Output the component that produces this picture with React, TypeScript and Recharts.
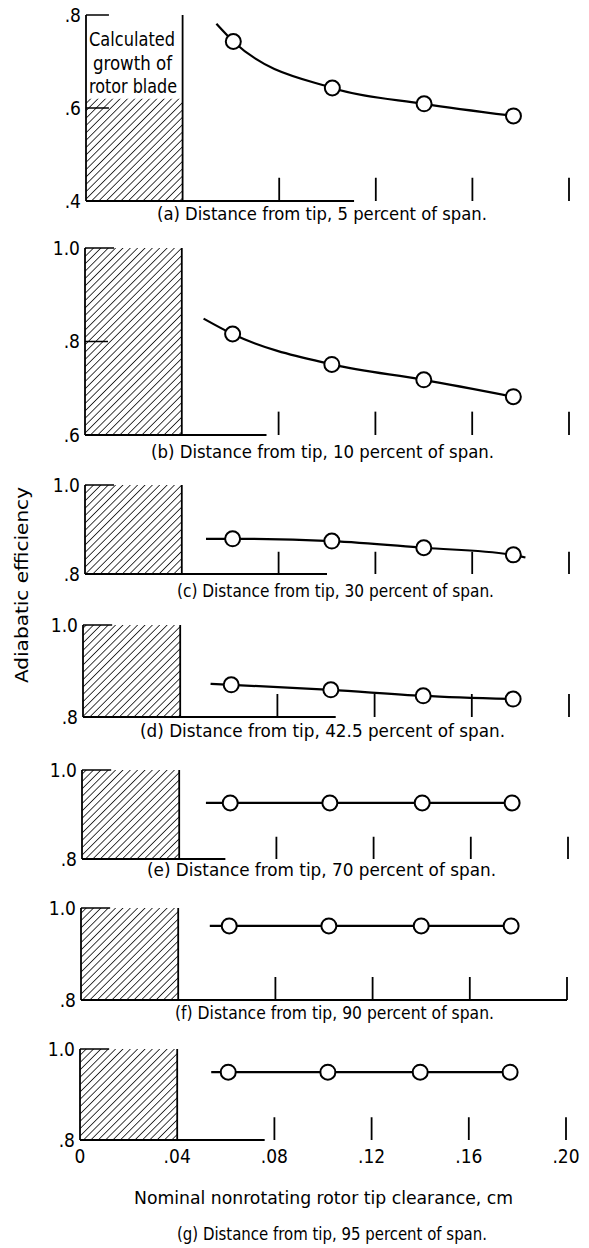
import React from "react";
import {
  ComposedChart,
  XAxis,
  YAxis,
  Line,
  Scatter,
  ReferenceArea,
  ReferenceLine,
} from "recharts";

// ---------- data ----------
const clearance = [0.061, 0.102, 0.14, 0.177];
const xTicks = [0, 0.04, 0.08, 0.12, 0.16, 0.2];
const xTickLabels = ["0", ".04", ".08", ".12", ".16", ".20"];

const effA = [0.743, 0.643, 0.609, 0.583];
const effB = [0.816, 0.751, 0.718, 0.682];
const effC = [0.879, 0.874, 0.859, 0.843];
const effD = [0.87, 0.859, 0.846, 0.839];
const effE = [0.926, 0.926, 0.926, 0.926];
const effF = [0.961, 0.961, 0.961, 0.961];
const effG = [0.949, 0.949, 0.949, 0.949];
const efficiencies = [effA, effB, effC, effD, effE, effF, effG];

// faired-curve start (and end) points
const curveLeadX = [0.054, 0.049, 0.05, 0.0525, 0.051, 0.053, 0.054];
const curveLeadY = [0.781, 0.849, 0.879, 0.872, 0.926, 0.961, 0.949];
const curveTailC = { x: 0.182, y: 0.837 };

const yTicksA = [0.4, 0.6, 0.8];
const yTicksB = [0.6, 0.8, 1.0];
const yTicksHigh = [0.8, 1.0];

const captions = [
  "(a) Distance from tip,  5 percent of span.",
  "(b) Distance from tip,  10 percent of span.",
  "(c) Distance from tip,  30 percent of span.",
  "(d) Distance from tip,  42.5 percent of span.",
  "(e) Distance from tip,  70 percent of span.",
  "(f) Distance from tip,  90 percent of span.",
  "(g) Distance from tip,  95 percent of span.",
];
const bladeNote = ["Calculated", "growth of", "rotor blade"];
const yTitle = "Adiabatic efficiency";
const xTitle = "Nominal nonrotating rotor tip clearance,  cm";

// blade growth (hatched) extent
const bladeGrowth = 0.04;
const hatchTopA = 0.62;

// ---------- layout ----------
const FONT = "'DejaVu Sans Condensed', 'Liberation Sans Narrow', 'DejaVu Sans', sans-serif";

const panels = [
  { top: 15, bottom: 201, left: 86, right: 569, domain: [0.4, 0.8], ticks: yTicksA, inner: [0.6, 0.8], hatchTop: hatchTopA, baseEnd: 0.111, cap: [157, 487, 213] },
  { top: 248, bottom: 435, left: 85, right: 569, domain: [0.6, 1.0], ticks: yTicksB, inner: [0.8], hatchTop: 1.0, baseEnd: 0.075, cap: [151, 494, 451] },
  { top: 485, bottom: 574, left: 85, right: 569, domain: [0.8, 1.0], ticks: yTicksHigh, inner: [], hatchTop: 1.0, baseEnd: 0.1, cap: [177, 494, 590] },
  { top: 625, bottom: 717, left: 83, right: 569, domain: [0.8, 1.0], ticks: yTicksHigh, inner: [], hatchTop: 1.0, baseEnd: 0.104, cap: [140, 505, 730] },
  { top: 770, bottom: 859, left: 82, right: 568, domain: [0.8, 1.0], ticks: yTicksHigh, inner: [], hatchTop: 1.0, baseEnd: 0.059, cap: [147, 496, 869] },
  { top: 908, bottom: 1000, left: 81, right: 567, domain: [0.8, 1.0], ticks: yTicksHigh, inner: [], hatchTop: 1.0, baseEnd: 0.2, cap: [175, 494, 1012] },
  { top: 1049, bottom: 1140, left: 80, right: 566, domain: [0.8, 1.0], ticks: yTicksHigh, inner: [], hatchTop: 1.0, baseEnd: 0.076, cap: [177, 487, 1233] },
];
const noteSpans = [
  [89, 175],
  [93, 172],
  [89, 177],
];

const fmtY = (v: number) => (v >= 1 ? "1.0" : v.toFixed(1).replace(/^0/, ""));
const fmtX = (v: number) => {
  const i = xTicks.findIndex((t) => Math.abs(t - v) < 1e-9);
  return i >= 0 ? xTickLabels[i] : String(v);
};

const OpenCircle = (props: any) => {
  const { cx, cy } = props;
  if (cx == null || cy == null) return null;
  return <circle cx={cx} cy={cy} r={7.5} fill="#fff" stroke="#000" strokeWidth={2} />;
};

function Panel({ idx }: { idx: number }) {
  const p = panels[idx];
  const plotH = p.bottom - p.top;
  const mt = 10;
  const isLast = idx === 6;
  const xAxisH = isLast ? 34 : 0;
  const mb = isLast ? 0 : 10;
  const height = mt + plotH + xAxisH + mb;
  const ymin = p.domain[0];
  const ymax = p.domain[1];
  const tickLen = 0.05 * ((ymax - ymin) / 0.2) * (idx < 2 ? 0.5 : 1);
  const innerLen = 0.0095;

  const pts = clearance.map((x, i) => ({ x, y: efficiencies[idx][i] }));
  const curve = [{ x: curveLeadX[idx], y: curveLeadY[idx] }, ...pts];
  if (idx === 2) curve.push(curveTailC);

  const pid = `hatch-${idx}`;

  return (
    <div style={{ position: "absolute", left: 0, top: p.top - mt, width: 589, height }}>
      <ComposedChart
        width={589}
        height={height}
        margin={{ top: mt, right: 589 - p.right, bottom: mb, left: 0 }}
      >
        <defs>
          <pattern id={pid} patternUnits="userSpaceOnUse" width={5.2} height={5.2} patternTransform="rotate(45)">
            <line x1={0} y1={-1} x2={0} y2={7} stroke="#000" strokeWidth={1.5} />
          </pattern>
        </defs>
        <XAxis
          type="number"
          dataKey="x"
          domain={[0, 0.2]}
          ticks={xTicks}
          hide={!isLast}
          height={xAxisH || 30}
          axisLine={false}
          tickLine={false}
          tickSize={0}
          tickMargin={10}
          tickFormatter={fmtX}
          tick={{ fill: "#000", fontSize: 19, fontFamily: FONT }}
          interval={0}
          allowDataOverflow
        />
        <YAxis
          type="number"
          dataKey="y"
          domain={p.domain}
          ticks={p.ticks}
          width={p.left}
          axisLine={{ stroke: "#000", strokeWidth: 1.8 }}
          tickLine={false}
          tickSize={0}
          tickMargin={5}
          tickFormatter={fmtY}
          tick={{ fill: "#000", fontSize: 19, fontFamily: FONT }}
          interval={0}
          allowDataOverflow
        />
        <ReferenceArea
          x1={0}
          x2={bladeGrowth}
          y1={ymin}
          y2={p.hatchTop}
          fill={`url(#${pid})`}
          fillOpacity={1}
          stroke="none"
        />
        {/* blade growth boundary */}
        <ReferenceLine
          segment={[{ x: bladeGrowth, y: ymin }, { x: bladeGrowth, y: ymax }]}
          stroke="#000"
          strokeWidth={1.8}
        />
        {idx > 0 && (
          <ReferenceLine
            segment={[{ x: 0, y: ymax }, { x: 0.012, y: ymax }]}
            stroke="#000"
            strokeWidth={1.5}
          />
        )}
        {/* partial baseline */}
        <ReferenceLine
          segment={[{ x: 0, y: ymin }, { x: p.baseEnd, y: ymin }]}
          stroke="#000"
          strokeWidth={1.8}
        />
        {/* inner y ticks */}
        {p.inner.map((v) => (
          <ReferenceLine
            key={`in-${v}`}
            segment={[{ x: 0, y: v }, { x: innerLen, y: v }]}
            stroke="#000"
            strokeWidth={1.5}
          />
        ))}
        {/* x ticks rising from the baseline */}
        {xTicks.slice(2).map((t) => (
          <ReferenceLine
            key={`xt-${t}`}
            segment={[{ x: t, y: ymin }, { x: t, y: ymin + tickLen }]}
            stroke="#000"
            strokeWidth={1.8}
          />
        ))}
        <Line
          data={curve}
          dataKey="y"
          type="monotone"
          stroke="#000"
          strokeWidth={2.2}
          dot={false}
          activeDot={false}
          isAnimationActive={false}
        />
        <Scatter data={pts} dataKey="y" shape={OpenCircle} isAnimationActive={false} />
      </ComposedChart>
    </div>
  );
}

export default function App() {
  return (
    <div style={{ position: "absolute", left: 0, top: 0, width: 589, height: 1248, background: "#fff" }}>
      {panels.map((_, i) => (
        <Panel key={i} idx={i} />
      ))}
      <svg
        width={589}
        height={1248}
        style={{ position: "absolute", left: 0, top: 0, pointerEvents: "none" }}
        fontFamily={FONT}
      >
        {captions.map((c, i) => {
          const [x0, x1, y] = panels[i].cap;
          return (
            <text
              key={c}
              x={x0}
              y={y}
              fontSize={18}
              dominantBaseline="central"
              textLength={x1 - x0}
              lengthAdjust="spacingAndGlyphs"
              fill="#000"
            >
              {c}
            </text>
          );
        })}
        <text x={134} y={1197} fontSize={18} dominantBaseline="central" textLength={379} lengthAdjust="spacingAndGlyphs" fill="#000">
          {xTitle}
        </text>
        <text
          x={0}
          y={0}
          transform="translate(22 585) rotate(-90)"
          fontSize={17}
          textAnchor="middle"
          dominantBaseline="central"
          textLength={196}
          lengthAdjust="spacingAndGlyphs"
          fill="#000"
        >
          {yTitle}
        </text>
        {bladeNote.map((t, i) => (
          <text
            key={t}
            x={noteSpans[i][0]}
            y={39 + i * 23.5}
            fontSize={19}
            dominantBaseline="central"
            textLength={noteSpans[i][1] - noteSpans[i][0]}
            lengthAdjust="spacingAndGlyphs"
            fill="#000"
          >
            {t}
          </text>
        ))}
      </svg>
    </div>
  );
}
